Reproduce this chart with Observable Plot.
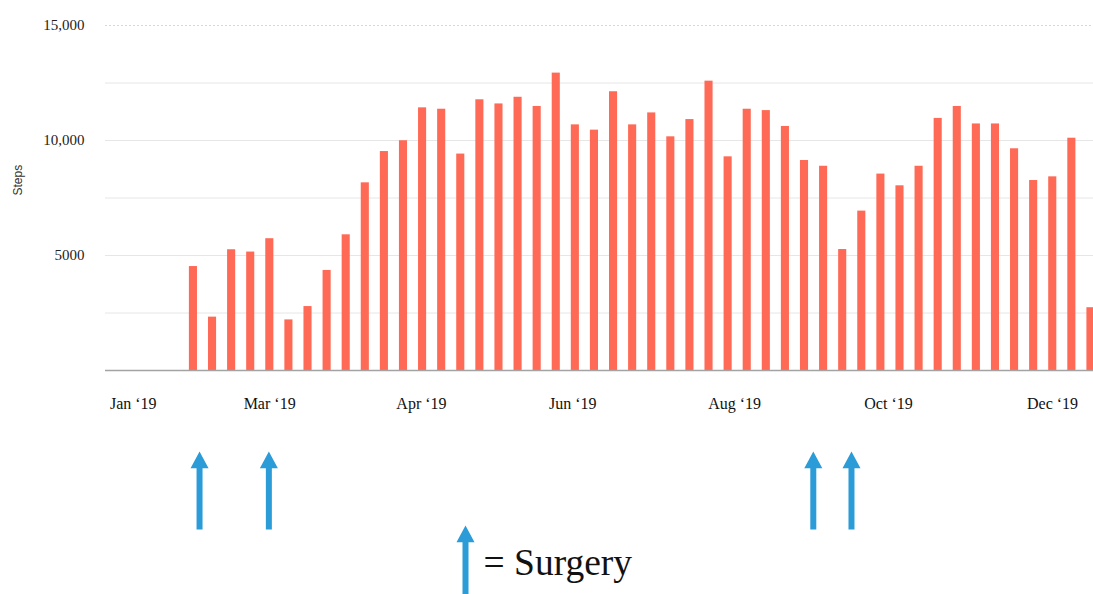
<!DOCTYPE html>
<html><head><meta charset="utf-8">
<script src="https://cdn.jsdelivr.net/npm/d3@7"></script>
<script src="https://cdn.jsdelivr.net/npm/@observablehq/plot@0.6"></script>
<style>html,body{margin:0;padding:0;background:#fff;overflow:hidden}</style>
</head><body><div id="chart"></div>
<script>
// Weekly step counts for 2019 (weeks 0..51); first four weeks have no data
const steps = [null, null, null, null,
  4520, 2320, 5250, 5150, 5730, 2200, 2780, 4350, 5900, 8160,
  9520, 9990, 11420, 11360, 9410, 11770, 11590, 11880, 11480, 12930,
  10680, 10450, 12120, 10680, 11200, 10160, 10910, 12580, 9290, 11360,
  11300, 10610, 9130, 8880, 5260, 6930, 8540, 8030, 8880, 10960,
  11480, 10720, 10720, 9640, 8260, 8420, 10100, 2730];
const yTicks = [5000, 10000, 15000];
const yTickLabels = ["5000", "10,000", "15,000"];
const gridValues = [2500, 5000, 7500, 10000, 12500];
const topGrid = [15000];
const xTickWeeks = [1.35, 8.49, 16.44, 24.36, 32.84, 40.9, 49.49];
const xTickLabels = ["Jan \u201819", "Mar \u201819", "Apr \u201819", "Jun \u201819", "Aug \u201819", "Oct \u201819", "Dec \u201819"];
const surgeryWeeks = [4.82, 8.45, 36.96, 38.96];
const legendLabel = "= Surgery";
const yLabel = "Steps";

const barColor = "#ff6a56";
const arrowColor = "#2b9cd8";

const data = steps.map((s, i) => ({week: i, steps: s})).filter(d => d.steps != null);
const xLabelMap = new Map(xTickWeeks.map((w, i) => [w, xTickLabels[i]]));
const yLabelMap = new Map(yTicks.map((v, i) => [v, yTickLabels[i]]));

const arrowShape = {
  draw(context, l) {
    const h = 16.7, hw = 9, sw = 3;
    context.moveTo(-sw, 0);
    context.lineTo(-sw, -(l - h));
    context.lineTo(-hw, -(l - h));
    context.lineTo(0, -l);
    context.lineTo(hw, -(l - h));
    context.lineTo(sw, -(l - h));
    context.lineTo(sw, 0);
    context.closePath();
  }
};

const chart = Plot.plot({
  width: 1093,
  height: 594,
  marginTop: 25,
  marginBottom: 224,
  marginLeft: 105,
  marginRight: 0,
  style: {fontFamily: "Liberation Serif", background: "white"},
  x: {type: "linear", domain: [0, 52], range: [107, 1100]},
  y: {domain: [0, 15000]},
  marks: [
    Plot.gridY(gridValues, {stroke: "#e6e6e6", strokeOpacity: 1}),
    Plot.gridY(topGrid, {stroke: "#d8d8d8", strokeOpacity: 1, strokeDasharray: "2,2"}),
    Plot.rectY(data, {x1: "week", x2: d => d.week + 1, y: "steps", fill: barColor, insetLeft: 5.5, insetRight: 5.5}),
    Plot.ruleY([0], {stroke: "#a3a3a3", strokeWidth: 1.5}),
    Plot.axisY(yTicks, {tickFormat: d => yLabelMap.get(d), tickSize: 0, tickPadding: 21, fontSize: 15, label: null, fill: "#222"}),
    Plot.axisX(xTickWeeks, {tickFormat: d => xLabelMap.get(d), tickSize: 0, tickPadding: 27, fontSize: 16, label: null, fill: "#111"}),
    Plot.text([yLabel], {text: d => d, frameAnchor: "left", dx: -87, dy: -2.5, rotate: -90, fontSize: 12, fontFamily: "Liberation Sans", fill: "#333"}),
    Plot.vector(surgeryWeeks, {x: d => d, frameAnchor: "bottom", dy: 159, length: 78, anchor: "start", rotate: 0, shape: arrowShape, fill: arrowColor, stroke: "none"}),
    Plot.vector([legendLabel], {frameAnchor: "bottom-left", dx: 360, dy: 226, length: 71, anchor: "start", rotate: 0, shape: arrowShape, fill: arrowColor, stroke: "none"}),
    Plot.text([legendLabel], {text: d => d, frameAnchor: "bottom-left", dx: 378, dy: 204, textAnchor: "start", fontSize: 37.5, fontFamily: "Liberation Serif", fill: "#111"})
  ]
});
document.getElementById("chart").append(chart);
</script>
</body></html>
